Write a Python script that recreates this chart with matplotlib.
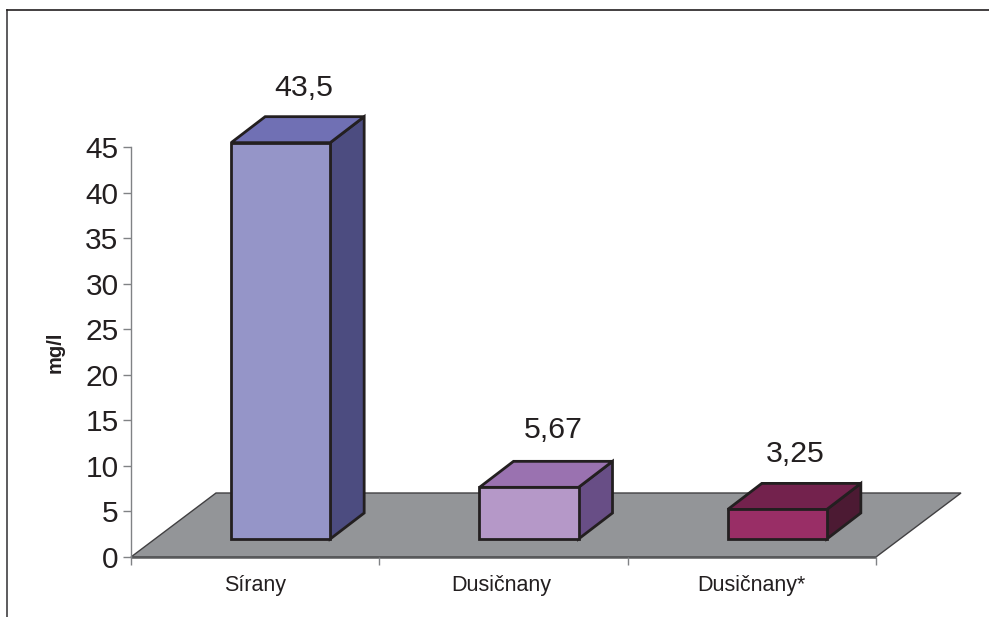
import matplotlib
matplotlib.use("Agg")
from matplotlib import pyplot as plt

categories = ["Sírany", "Dusičnany", "Dusičnany*"]
values = [43.5, 5.67, 3.25]
value_labels = ["43,5", "5,67", "3,25"]
y_ticks = [0, 5, 10, 15, 20, 25, 30, 35, 40, 45]
front_colors = ["#9595c8", "#b598c8", "#992e66"]
top_colors = ["#7070b4", "#9a72b0", "#73224d"]
side_colors = ["#4c4c80", "#684e86", "#4c1a33"]

W, H = 989, 617
INK = "#231f20"
plt.rcParams["font.family"] = ["Liberation Sans", "DejaVu Sans"]

fig = plt.figure(figsize=(W / 100, H / 100), dpi=100)
ax = fig.add_axes([131 / W, 1 - 557 / H, 745 / W, 410 / H])
ax.set_xlim(0, 3)
ax.set_ylim(0, 45)
ax.patch.set_visible(False)

# depth of the pseudo 3d box, in data units
dx = 34 / 745 * 3
dy = 26 / 410 * 45
floor_dx = 85 / 745 * 3
floor_dy = 64 / 410 * 45
base = 18 / 410 * 45
bar_w = 99 / 745 * 3
shift = 25.5 / 745 * 3

# hand placement of the value labels above each box, in points
label_nudge_x = [3.6, 5.0, 0.0]
label_nudge_y = [-1.4, 0.7, -0.7]
name_nudge_x = [0.0, -1.8, 0.0]

ax.fill([0, 3, 3 + floor_dx, floor_dx], [0, 0, floor_dy, floor_dy],
        facecolor="#939598", edgecolor="#414042", linewidth=1.0, clip_on=False, zorder=1)
ax.plot([0, 3], [0, 0], color="#58595b", linewidth=1.8, clip_on=False, zorder=1.5, solid_capstyle="butt")

for i, value in enumerate(values):
    cx = i + 0.5 + shift
    x0 = cx - bar_w / 2
    x1 = cx + bar_w / 2
    top = base + value
    ax.fill([x1, x1 + dx, x1 + dx, x1], [base, base + dy, top + dy, top],
            facecolor=side_colors[i], edgecolor=INK, linewidth=2.0, joinstyle="miter", zorder=2, clip_on=False)
    ax.fill([x0, x1, x1 + dx, x0 + dx], [top, top, top + dy, top + dy],
            facecolor=top_colors[i], edgecolor=INK, linewidth=2.0, joinstyle="miter", zorder=2, clip_on=False)
    ax.bar(cx, value, width=bar_w, bottom=base, color=front_colors[i], edgecolor=INK,
           linewidth=2.0, zorder=3, clip_on=False)
    ax.annotate(value_labels[i], (cx + dx / 2 + 0.003, top + dy + 1.85),
                xytext=(label_nudge_x[i], label_nudge_y[i]), textcoords="offset points",
                ha="center", va="bottom", fontsize=21.8, color=INK, annotation_clip=False)

for side in ["top", "right", "bottom"]:
    ax.spines[side].set_visible(False)
ax.spines["left"].set_color("#808285")
ax.spines["left"].set_linewidth(1.0)

ax.set_yticks(y_ticks)
ax.set_yticklabels([str(t) for t in y_ticks], fontsize=21.5, color=INK)
ax.tick_params(axis="y", length=6, width=1.0, color="#808285", pad=3)
ax.set_xticks([0, 1, 2, 3])
ax.set_xticklabels([])
ax.tick_params(axis="x", length=6, width=1.0, color="#808285")
for i, name in enumerate(categories):
    ax.annotate(name, (i + 0.5, 0), xytext=(name_nudge_x[i], -13), textcoords="offset points",
                ha="center", va="top", fontsize=15.5, color=INK, annotation_clip=False)

fig.text(55 / W, 1 - 352 / H, "mg/l", rotation=90, ha="center", va="center",
         fontsize=14.5, fontweight="bold", color=INK)

# outer frame runs off the bottom and right of the canvas
fig.add_artist(plt.Line2D([7 / W, 7 / W], [0, 1 - 10 / H], color="#414042", linewidth=1.2))
fig.add_artist(plt.Line2D([7 / W, 1], [1 - 10 / H, 1 - 10 / H], color="#231f20", linewidth=1.2))

fig.savefig("out.png", dpi=100)
